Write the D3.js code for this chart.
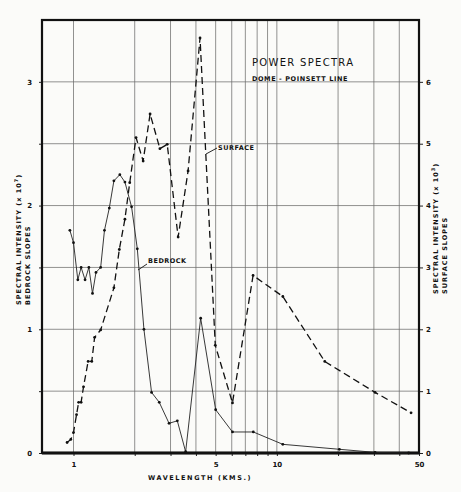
<!DOCTYPE html>
<html>
<head>
<meta charset="utf-8">
<script src="https://cdn.jsdelivr.net/npm/d3@7"></script>
<style>
  body { margin: 0; background: #fbfbf9; }
  svg { display: block; }
  .lbl { font-family: "DejaVu Sans", sans-serif; font-weight: bold; fill: #111; }
</style>
</head>
<body>
<div id="chart"></div>
<script>
// bedrock slopes (left axis, x 10^7)
var bedrockKm = [0.96, 1.0, 1.05, 1.09, 1.14, 1.19, 1.24, 1.29, 1.36, 1.42, 1.5, 1.58, 1.69, 1.79, 1.93, 2.06, 2.22, 2.42, 2.64, 2.95, 3.24, 3.56, 4.22, 5.0, 6.05, 7.66, 10.7, 20.3, 30.4, 44.5];
var bedrockVal = [1.80, 1.70, 1.40, 1.50, 1.40, 1.50, 1.29, 1.46, 1.50, 1.80, 1.98, 2.20, 2.25, 2.19, 1.99, 1.65, 1.00, 0.49, 0.41, 0.24, 0.26, 0.01, 1.09, 0.35, 0.17, 0.17, 0.07, 0.03, 0.005, 0];

// surface slopes (right axis, x 10^3)
var surfaceKm = [0.93, 0.97, 1.0, 1.035, 1.06, 1.09, 1.12, 1.18, 1.23, 1.27, 1.36, 1.58, 1.68, 1.79, 1.89, 2.03, 2.2, 2.38, 2.66, 2.89, 3.27, 3.66, 4.19, 4.98, 6.05, 7.64, 10.7, 17.2, 30.4, 45.7];
var surfaceVal = [0.17, 0.22, 0.33, 0.62, 0.82, 0.82, 1.07, 1.48, 1.48, 1.87, 1.99, 2.67, 3.29, 3.78, 4.37, 5.10, 4.72, 5.48, 4.92, 4.99, 3.49, 4.56, 6.71, 1.74, 0.81, 2.87, 2.53, 1.48, 0.98, 0.65];

// axis ticks
var xGrid = [1, 2, 3, 4, 5, 6, 7, 8, 9, 10, 20, 30, 40];
var xTickLabels = [1, 5, 10, 50];
var leftTicks = [0, 0.5, 1, 1.5, 2, 2.5, 3];
var leftTickLabels = [0, 1, 2, 3];
var rightTickLabels = [0, 1, 2, 3, 4, 5, 6];

var svgWidth = 461, svgHeight = 492;
var plot = { left: 42, right: 419, top: 20, bottom: 453 };

var svg = d3.select("#chart").append("svg")
  .attr("width", svgWidth)
  .attr("height", svgHeight);

var x = d3.scaleLog().domain([0.7, 50]).range([plot.left, plot.right]);
var yL = d3.scaleLinear().domain([0, 3.5]).range([plot.bottom, plot.top]);
var yR = d3.scaleLinear().domain([0, 7]).range([plot.bottom, plot.top]);

// grid
var grid = svg.append("g").attr("stroke", "#6e6e6c").attr("stroke-width", 0.75);
grid.selectAll("line.v").data(xGrid).enter().append("line")
  .attr("x1", d => x(d)).attr("x2", d => x(d))
  .attr("y1", plot.top).attr("y2", plot.bottom);
grid.selectAll("line.h").data(rightTickLabels.slice(1)).enter().append("line")
  .attr("x1", plot.left).attr("x2", plot.right)
  .attr("y1", d => yR(d)).attr("y2", d => yR(d));

// axes
var xAxis = d3.axisBottom(x).tickValues(xGrid.concat([50])).tickSize(3).tickFormat(d => xTickLabels.indexOf(d) >= 0 ? d : "");
var gx = svg.append("g").attr("transform", `translate(0, ${plot.bottom})`).call(xAxis);

var leftAxis = d3.axisLeft(yL).tickValues(leftTicks).tickSize(3).tickFormat(d => leftTickLabels.indexOf(d) >= 0 ? d : "");
var gl = svg.append("g").attr("transform", `translate(${plot.left}, 0)`).call(leftAxis);

var rightAxis = d3.axisRight(yR).tickValues(rightTickLabels).tickSize(4).tickPadding(3).tickFormat(d3.format("d"));
var gr = svg.append("g").attr("transform", `translate(${plot.right}, 0)`).call(rightAxis);

[gx, gl, gr].forEach(function(g) {
  g.select(".domain").remove();
  g.selectAll(".tick line").attr("stroke", "#222").attr("stroke-width", 1);
  g.selectAll("text").attr("class", "lbl").style("font-size", "7px").attr("fill", "#111");
});
gx.selectAll("text").attr("dy", "1.1em");
gl.selectAll("text").attr("dx", "-4px");

// frame
svg.append("rect")
  .attr("x", plot.left).attr("y", plot.top)
  .attr("width", plot.right - plot.left).attr("height", plot.bottom - plot.top)
  .attr("fill", "none").attr("stroke", "#111").attr("stroke-width", 2.2);
svg.append("line")
  .attr("x1", plot.left).attr("x2", plot.right)
  .attr("y1", plot.bottom).attr("y2", plot.bottom)
  .attr("stroke", "#111").attr("stroke-width", 3);

// series
var bedrock = bedrockKm.map((k, i) => ({ k: k, v: bedrockVal[i] }));
var surface = surfaceKm.map((k, i) => ({ k: k, v: surfaceVal[i] }));

var lineL = d3.line().x(d => x(d.k)).y(d => yL(d.v));
var lineR = d3.line().x(d => x(d.k)).y(d => yR(d.v));

svg.append("path").datum(bedrock)
  .attr("d", lineL).attr("fill", "none")
  .attr("stroke", "#222").attr("stroke-width", 0.9);
svg.append("path").datum(surface)
  .attr("d", lineR).attr("fill", "none")
  .attr("stroke", "#111").attr("stroke-width", 1.3)
  .attr("stroke-dasharray", "7,4");

svg.selectAll("circle.b").data(bedrock).enter().append("circle")
  .attr("cx", d => x(d.k)).attr("cy", d => yL(d.v)).attr("r", 1.4).attr("fill", "#111");
svg.selectAll("circle.s").data(surface).enter().append("circle")
  .attr("cx", d => x(d.k)).attr("cy", d => yR(d.v)).attr("r", 1.4).attr("fill", "#111");

// title
svg.append("text").attr("x", 252).attr("y", 66)
  .style("font-family", "DejaVu Sans, sans-serif").style("font-size", "10px")
  .style("letter-spacing", "1.3px").attr("fill", "#111")
  .text("POWER SPECTRA");
svg.append("text").attr("class", "lbl").attr("x", 252).attr("y", 81)
  .style("font-size", "6.5px").style("letter-spacing", "0.6px")
  .text("DOME - POINSETT LINE");

// series labels with leaders
svg.append("text").attr("class", "lbl").attr("x", 218).attr("y", 150)
  .style("font-size", "6.5px").style("letter-spacing", "0.5px").text("SURFACE");
svg.append("line").attr("x1", 206).attr("y1", 154).attr("x2", 217).attr("y2", 148)
  .attr("stroke", "#111").attr("stroke-width", 0.9);
svg.append("text").attr("class", "lbl").attr("x", 148).attr("y", 263)
  .style("font-size", "6.5px").style("letter-spacing", "0.5px").text("BEDROCK");
svg.append("line").attr("x1", 138).attr("y1", 270).attr("x2", 147).attr("y2", 264)
  .attr("stroke", "#111").attr("stroke-width", 0.9);

// x label
svg.append("text").attr("class", "lbl").attr("x", 148).attr("y", 480)
  .style("font-size", "6.5px").style("letter-spacing", "1.6px")
  .text("WAVELENGTH  (KMS.)");

// y labels
function yLabel(xPos, yPos, line1, exp, line2) {
  var g = svg.append("g").attr("transform", `translate(${xPos}, ${yPos}) rotate(-90)`);
  var t = g.append("text").attr("class", "lbl").style("font-size", "6.5px")
    .style("letter-spacing", "1px").attr("x", 0).attr("y", 0);
  t.append("tspan").text(line1 + "  (x 10");
  t.append("tspan").attr("dy", -3).style("font-size", "5px").text(exp);
  t.append("tspan").attr("dy", 3).text(")");
  g.append("text").attr("class", "lbl").style("font-size", "6.5px")
    .style("letter-spacing", "1px").attr("x", 0).attr("y", 9).text(line2);
}
yLabel(21, 305, "SPECTRAL  INTENSITY", "7", "BEDROCK  SLOPES");
yLabel(438, 294, "SPECTRAL  INTENSITY", "3", "SURFACE  SLOPES");
</script>
</body>
</html>
